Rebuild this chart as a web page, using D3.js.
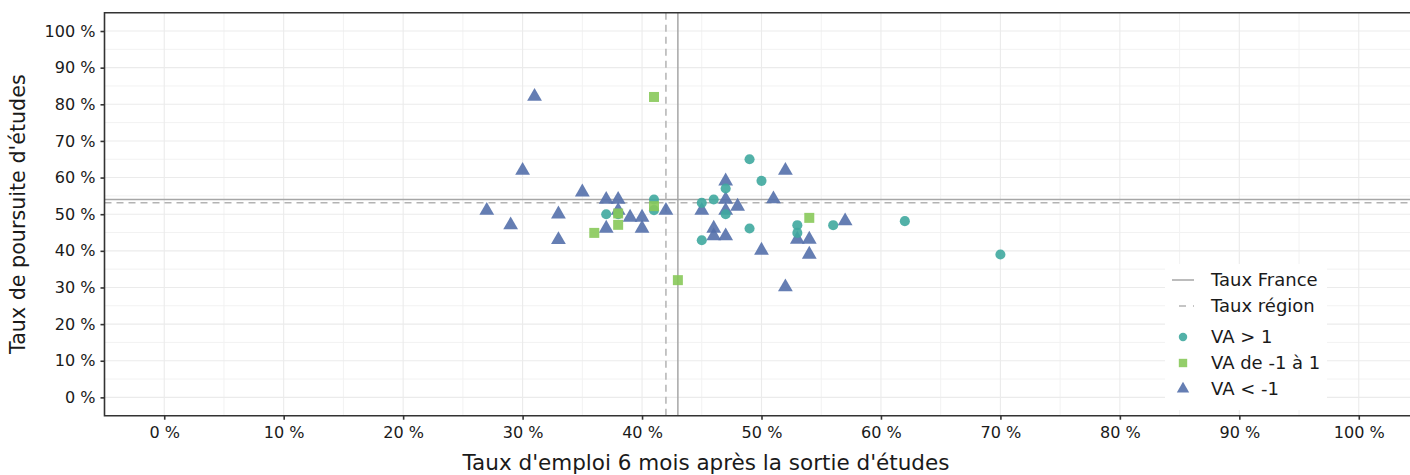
<!DOCTYPE html>
<html><head><meta charset="utf-8">
<script src="https://cdn.jsdelivr.net/npm/d3@7"></script>
<style>body{margin:0;background:#fff}svg{display:block;font-family:"DejaVu Sans","Noto Sans",sans-serif}</style>
</head><body><svg id="c" width="1410" height="475"></svg>
<script>
const seriesNames = ["VA > 1", "VA de -1 à 1", "VA < -1"];
const seriesColors = ["#3fa99e", "#88c95a", "#5470ab"];
const vaPlusX = [41, 41, 37, 38, 45, 46, 47, 47, 45, 49, 50, 49, 53, 53, 56, 62, 70];
const vaPlusY = [54, 51.1, 50, 50, 53.1, 54, 57, 50, 42.9, 65, 59.1, 46.1, 47, 44.9, 47, 48.1, 39];
const vaMidX = [41, 41, 38, 38, 36, 43, 54];
const vaMidY = [82, 52.2, 50.2, 47.1, 44.9, 32, 49];
const vaMinusX = [31, 30, 35, 37, 38, 27, 33, 38, 39, 40, 42, 29, 37, 40, 33, 45, 47, 47, 47, 48, 46, 46, 47, 51, 52, 50, 53, 54, 54, 57, 52];
const vaMinusY = [82.4, 62.2, 56.3, 54.3, 54.3, 51.3, 50.3, 51.3, 49.4, 49.4, 51.3, 47.3, 46.4, 46.4, 43.3, 51.3, 59.3, 54.3, 51.3, 52.4, 46.4, 44.3, 44.3, 54.4, 62.2, 40.4, 43.4, 43.4, 39.3, 48.4, 30.4];
const tauxFrance = {x: 43, y: 54};
const tauxRegion = {x: 42, y: 53.1};
const tickValues = [0,10,20,30,40,50,60,70,80,90,100];
const xTitle = "Taux d'emploi 6 mois après la sortie d'études";
const yTitle = "Taux de poursuite d'études";

const svg = d3.select("#c");
const x = d3.scaleLinear().domain([-5,105]).range([104.5,1418.5]);
const y = d3.scaleLinear().domain([-5,105]).range([415.7,12.7]);
const fmt = d => d + " %";
const L = x.range()[0], R = x.range()[1], T = y.range()[1], B = y.range()[0];

function fitSize(str, width, lo, hi) {
  const t = svg.append("text").attr("font-size", 100).text(str);
  const w = t.node().getComputedTextLength();
  t.remove();
  return Math.max(lo, Math.min(hi, 100 * width / w));
}
const tickFs = fitSize("100 %", 51, 14, 17);
const legFs = fitSize("Taux France", 114, 15, 18);
const xtFs = fitSize(xTitle, 577, 17, 21.5);
const ytFs = fitSize(yTitle, 280, 17, 21);

const g = svg.append("g");
const minor = d3.range(-5,106,5).filter(v => v % 10 !== 0);
g.selectAll(".mx").data(minor).join("line").attr("x1",d=>x(d)).attr("x2",d=>x(d)).attr("y1",T).attr("y2",B).attr("stroke","#f2f2f2").attr("stroke-width",1);
g.selectAll(".my").data(minor).join("line").attr("y1",d=>y(d)).attr("y2",d=>y(d)).attr("x1",L).attr("x2",R).attr("stroke","#f2f2f2").attr("stroke-width",1);
g.selectAll(".gx").data(tickValues).join("line").attr("x1",d=>x(d)).attr("x2",d=>x(d)).attr("y1",T).attr("y2",B).attr("stroke","#ebebeb").attr("stroke-width",1.1);
g.selectAll(".gy").data(tickValues).join("line").attr("y1",d=>y(d)).attr("y2",d=>y(d)).attr("x1",L).attr("x2",R).attr("stroke","#ebebeb").attr("stroke-width",1.1);

g.append("line").attr("x1",x(tauxFrance.x)).attr("x2",x(tauxFrance.x)).attr("y1",T).attr("y2",B).attr("stroke","#a6a6a6").attr("stroke-width",1.5);
g.append("line").attr("y1",y(tauxFrance.y)).attr("y2",y(tauxFrance.y)).attr("x1",L).attr("x2",R).attr("stroke","#a6a6a6").attr("stroke-width",1.5);
g.append("line").attr("x1",x(tauxRegion.x)).attr("x2",x(tauxRegion.x)).attr("y1",T).attr("y2",B).attr("stroke","#b3b3b3").attr("stroke-width",1.5).attr("stroke-dasharray","7,5");
g.append("line").attr("y1",y(tauxRegion.y)).attr("y2",y(tauxRegion.y)).attr("x1",L).attr("x2",R).attr("stroke","#b3b3b3").attr("stroke-width",1.5).attr("stroke-dasharray","7,5");

const sym = [d3.symbolCircle, d3.symbolSquare, d3.symbolTriangle];
const sizes = [80, 100, 95];
const sets = [[vaPlusX,vaPlusY],[vaMidX,vaMidY],[vaMinusX,vaMinusY]];
const order = [2,0,1];
order.forEach(i => {
  const data = sets[i][0].map((v,k)=>[v, sets[i][1][k]]);
  g.selectAll(".p"+i).data(data).join("path")
    .attr("d", d3.symbol().type(sym[i]).size(sizes[i]))
    .attr("transform", d => `translate(${x(d[0])},${y(d[1]) + (i===2?1:0)})`)
    .attr("fill", seriesColors[i]).attr("fill-opacity",0.9);
});

svg.append("path").attr("d",`M${R},${T}H${L}V${B}H${R}`).attr("fill","none").attr("stroke","#333").attr("stroke-width",1.6);

const xa = svg.append("g").attr("transform",`translate(0,${B})`).call(d3.axisBottom(x).tickValues(tickValues).tickFormat(fmt).tickSize(4).tickPadding(5));
const ya = svg.append("g").attr("transform",`translate(${L},0)`).call(d3.axisLeft(y).tickValues(tickValues).tickFormat(fmt).tickSize(4).tickPadding(5));
[xa,ya].forEach(a=>{
  a.attr("font-family",null).attr("font-size",null);
  a.select(".domain").remove();
  a.selectAll(".tick line").attr("stroke","#333").attr("stroke-width",1.6);
  a.selectAll("text").attr("font-size",tickFs).attr("fill","#1a1a1a");
});
xa.selectAll("text").attr("dy","0.85em");

svg.append("text").attr("x",706).attr("y",470).attr("text-anchor","middle").attr("font-size",xtFs)
  .attr("fill","#1a1a1a").text(xTitle);
svg.append("text").attr("transform",`translate(25,${(T+B)/2}) rotate(-90)`).attr("text-anchor","middle").attr("font-size",ytFs)
  .attr("fill","#1a1a1a").text(yTitle);

const lg = svg.append("g").attr("transform","translate(1165,264)");
lg.append("rect").attr("width",162).attr("height",146).attr("fill","#fff");
const rows = [16,42,73,99,125];
lg.append("line").attr("x1",7).attr("x2",29).attr("y1",rows[0]).attr("y2",rows[0]).attr("stroke","#a6a6a6").attr("stroke-width",1.5);
lg.append("line").attr("x1",7).attr("x2",29).attr("y1",rows[1]).attr("y2",rows[1]).attr("stroke","#b3b3b3").attr("stroke-width",1.5).attr("stroke-dasharray","7,7").attr("stroke-dashoffset",-7);
const labels = ["Taux France","Taux région"].concat(seriesNames);
labels.forEach((t,k)=>{
  lg.append("text").attr("x",46).attr("y",rows[k]).attr("dy","0.35em").attr("font-size",legFs).attr("fill","#1a1a1a").text(t);
});
[0,1,2].forEach(i=>{
  lg.append("path").attr("d",d3.symbol().type(sym[i]).size(sizes[i]*0.7)).attr("transform",`translate(18,${rows[i+2]})`).attr("fill",seriesColors[i]).attr("fill-opacity",0.9);
});
</script></body></html>
